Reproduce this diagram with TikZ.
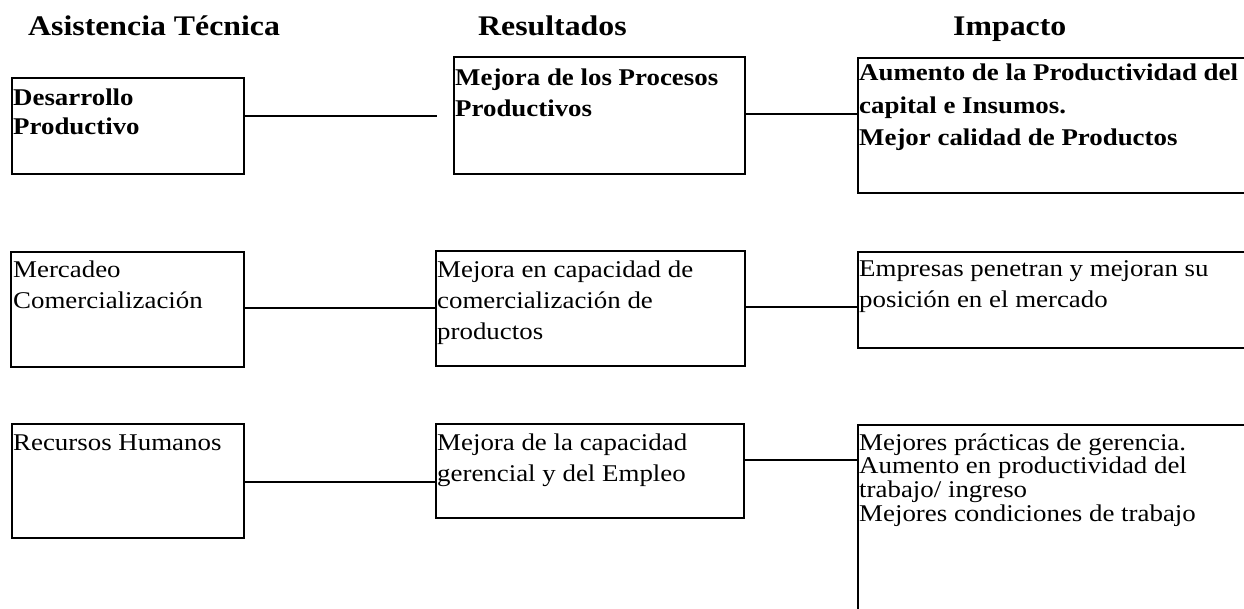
\documentclass[tikz,border=0pt]{standalone}
\usepackage{fontspec}
\setmainfont{Liberation Serif}[FakeStretch=1.12]
\usetikzlibrary{calc}
\tikzset{
  box/.style={draw, line width=1.6pt, inner sep=0pt, anchor=north west},
  txt/.style={anchor=base west, inner sep=0pt},
  title/.style={anchor=base west, inner sep=0pt, font=\fontsize{28.4}{34}\selectfont\bfseries},
  conn/.style={line width=1.6pt},
}
\newcommand{\bxtext}[3]{\parbox[t]{14cm}{\raggedright\fontsize{24}{#1}\selectfont#2#3}}
\begin{document}
\begin{tikzpicture}[x=1pt,y=-1pt]
\useasboundingbox[fill=white] (0,0) rectangle (1244,609);
% titles
\node[title] (t1) at (28,36) {Asistencia Técnica};
\node[title] (t2) at (478,36) {Resultados};
\node[title] (t3) at (953,36) {Impacto};
% boxes
\node[box, minimum width=232, minimum height=96] (b1) at (11,77) {};
\node[box, minimum width=291, minimum height=117] (b2) at (453,56) {};
\node[box, minimum width=400, minimum height=135] (b3) at (857,57) {};
\node[box, minimum width=233, minimum height=115] (b4) at (10,251) {};
\node[box, minimum width=309, minimum height=115] (b5) at (435,250) {};
\node[box, minimum width=400, minimum height=96] (b6) at (857,251) {};
\node[box, minimum width=232, minimum height=114] (b7) at (11,423) {};
\node[box, minimum width=308, minimum height=94] (b8) at (435,423) {};
\node[box, minimum width=400, minimum height=200] (b9) at (857,424) {};
% texts
\node[txt] (x1) at (13,106) {\bxtext{29}{\bfseries}{Desarrollo\\Productivo}};
\node[txt] (x2) at (455,86) {\bxtext{31}{\bfseries}{Mejora de los Procesos\\Productivos}};
\node[txt] (x3) at (859,81) {\bxtext{32.5}{\bfseries}{Aumento de la Productividad del\\capital e Insumos.\\Mejor calidad de Productos}};
\node[txt] (x4) at (13,278) {\bxtext{31}{}{Mercadeo\\Comercialización}};
\node[txt] (x5) at (437,278) {\bxtext{31}{}{Mejora en capacidad de\\comercialización de\\productos}};
\node[txt] (x6) at (859,277) {\bxtext{31}{}{Empresas penetran y mejoran su\\posición en el mercado}};
\node[txt] (x7) at (13,450) {\bxtext{31}{}{Recursos Humanos}};
\node[txt] (x8) at (437,450) {\bxtext{31}{}{Mejora de la capacidad\\gerencial y del Empleo}};
\node[txt] (x9) at (859,450) {\bxtext{23.7}{}{Mejores prácticas de gerencia.\\Aumento en productividad del\\trabajo/ ingreso\\Mejores condiciones de trabajo}};
% connectors
\coordinate (c1) at (437,116);
\coordinate (c2) at (800,114);
\coordinate (c3) at (340,308);
\coordinate (c4) at (800,307);
\coordinate (c5) at (340,482);
\coordinate (c6) at (800,460);
\draw[conn] (b1.east |- c1) -- (c1);
\draw[conn] (b2.east |- c2) -- (b3.west |- c2);
\draw[conn] (b4.east |- c3) -- (b5.west |- c3);
\draw[conn] (b5.east |- c4) -- (b6.west |- c4);
\draw[conn] (b7.east |- c5) -- (b8.west |- c5);
\draw[conn] (b8.east |- c6) -- (b9.west |- c6);
\end{tikzpicture}
\end{document}
